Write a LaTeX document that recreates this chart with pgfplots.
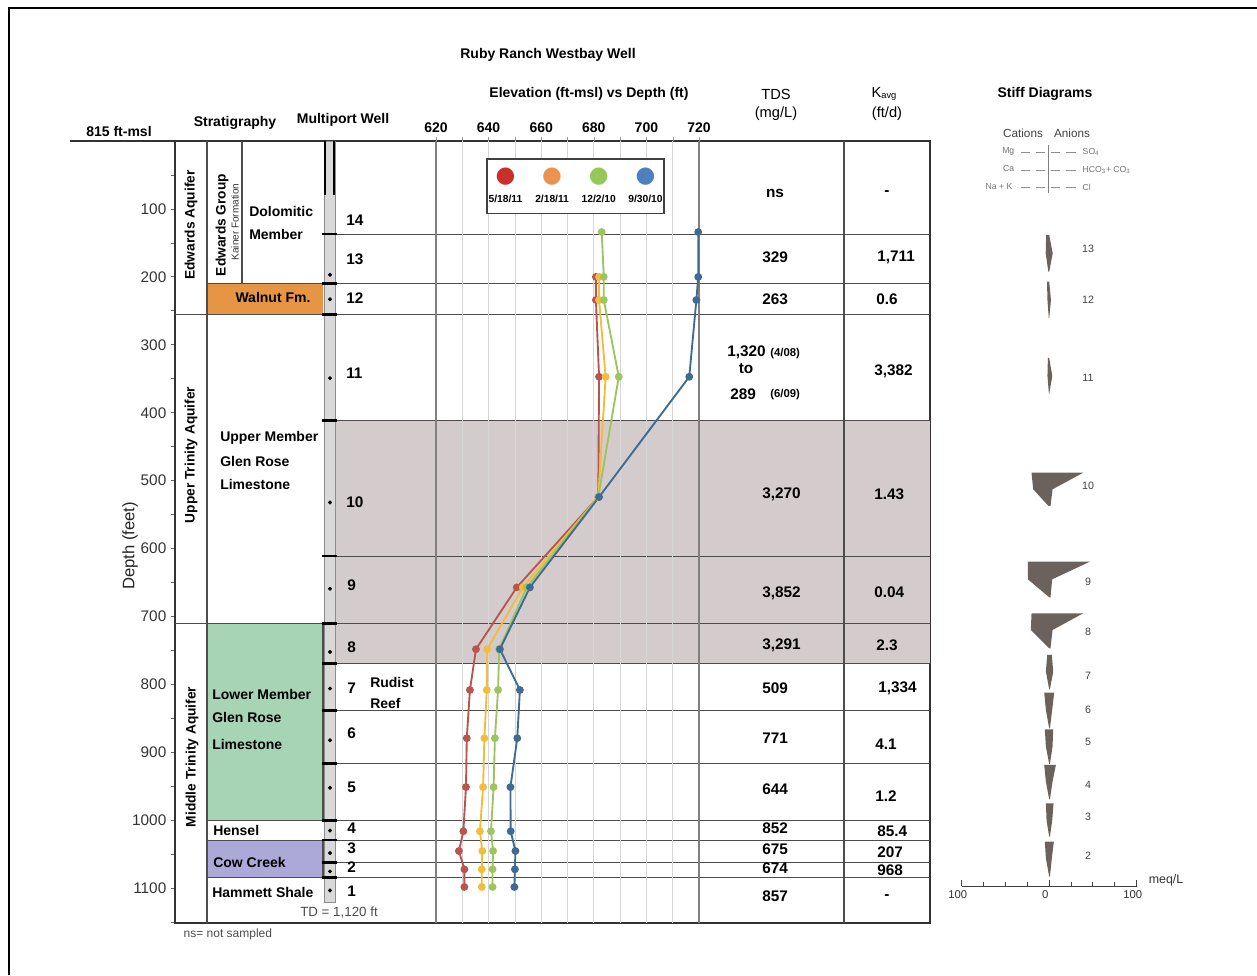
\documentclass[border=0pt]{standalone}
\usepackage{pgfplots}
\pgfplotsset{compat=1.18}
\usepackage{fontspec}
\setmainfont{Liberation Sans}
\newfontfamily\symf{DejaVu Sans}
\newcommand\fs[1]{\fontsize{#1}{#1}\selectfont}
\newcommand\lent[2]{\shortstack{\textcolor{#1}{\symf\fs{17}●}\\\rule{0pt}{10.5pt}#2}}
\definecolor{zshade}{HTML}{D4CCCC}
\definecolor{walnut}{HTML}{E69545}
\definecolor{lgreen}{HTML}{A6D4B4}
\definecolor{cow}{HTML}{ACA8D8}
\definecolor{stiff}{HTML}{6B625E}
\definecolor{cR}{HTML}{B6564E}
\definecolor{cO}{HTML}{F2BC3E}
\definecolor{cG}{HTML}{9DC45E}
\definecolor{cB}{HTML}{3F6B92}
\definecolor{lR}{HTML}{C9302C}
\definecolor{lO}{HTML}{EC924F}
\definecolor{lG}{HTML}{94C95A}
\definecolor{lB}{HTML}{4E7FBE}
\begin{document}
\begin{tikzpicture}[x=0.75pt,y=0.75pt,
  zl/.style={draw=black!70, line width=0.8pt},
  lab/.style={font=\bfseries\fs{10.5}, inner sep=0pt},
  val/.style={font=\bfseries\fs{11.5}, inner sep=0pt, anchor=west}]
\useasboundingbox (0,0) rectangle (1257,975);

% ---------- panel (strata, well, TDS, K) ----------
\begin{axis}[at={(131.25pt,625.5pt)}, anchor=north west, scale only axis,
  width=566.25pt, height=586.5pt,
  xmin=175, xmax=930, ymin=0, ymax=1151, y dir=reverse,
  xtick=\empty, ytick={100,200,...,1100}, minor ytick={50,150,...,1150},
  tick align=outside, ytick pos=left, major tick length=3pt, minor tick length=3pt,
  tick style={black!60, line width=0.6pt},
  yticklabel style={font=\fs{11.5}, text=black!80},
  /pgf/number format/assume math mode=true, /pgf/number format/1000 sep={},
  axis line style={draw=black!80, line width=0.8pt}, clip=false]
  \fill[zshade] (336,411) rectangle (930,769);
  \fill[walnut] (207,210) rectangle (323,255);
  \fill[lgreen] (207,710) rectangle (323,1000);
  \fill[cow] (207,1029) rectangle (323,1084);
  \draw[zl] (207,0) -- (207,1151);
  \draw[zl] (242,0) -- (242,210);
  \draw[zl] (844,0) -- (844,1151);
  \draw[zl] (207,710) rectangle (323,1000);
  \draw[zl] (207,1029) rectangle (323,1084);
  \pgfplotsinvokeforeach{137,411,611,769,838,916,1062}{\draw[zl] (336,#1) -- (930,#1);}
  \pgfplotsinvokeforeach{210,1000,1029,1084}{\draw[zl] (207,#1) -- (930,#1);}
  \pgfplotsinvokeforeach{255,710}{\draw[zl] (175,#1) -- (930,#1);}
  % well
  \filldraw[fill=black!15, draw=black!45, line width=0.5pt] (324,0) rectangle (335,1121);
  \draw[line width=2pt] (325,0) -- (325,80);
  \draw[line width=2pt] (334,0) -- (334,80);
  \pgfplotsinvokeforeach{137,210,255,411,611,710,769,838,916,1000,1029,1062,1084}{\draw[line width=2pt] (322,#1) -- (337,#1);}
  \addplot[only marks, mark=*, mark size=1.3pt, black] coordinates {
    (330,197) (330,233) (330,349) (330,532) (330,659) (330,752) (330,806)
    (330,882) (330,952) (330,1015) (330,1048) (330,1075) (330,1103)};
\end{axis}

% ---------- elevation chart ----------
\begin{axis}[at={(327pt,625.5pt)}, anchor=north west, scale only axis,
  width=197.25pt, height=586.5pt,
  xmin=620, xmax=720, ymin=0, ymax=1151, y dir=reverse,
  xtick={620,640,...,720}, minor xtick={630,650,...,710},
  xmajorgrids, xminorgrids,
  grid style={black!16, line width=0.6pt}, minor grid style={black!16, line width=0.6pt},
  xtick pos=right, xticklabel pos=right, ytick=\empty,
  tick align=outside, major tick length=3pt, minor tick length=3pt,
  tick style={black!40},
  xticklabel style={font=\bfseries\fs{10.5}},
  /pgf/number format/assume math mode=true,
  separate axis lines, x axis line style={draw=none},
  y axis line style={draw=black!50, line width=1pt}, clip=false,
  legend columns=4,
  legend style={at={(axis description cs:0.19,0.978)}, anchor=north west,
    draw=black!75, line width=1.2pt, fill=white, inner xsep=0.5pt, inner ysep=6pt,
    /tikz/every even column/.append style={column sep=8pt},
    nodes={font=\bfseries\fs{7.7}, text width=26pt, align=center, inner sep=0.5pt}}]
  \addplot[cR, line width=1.4pt, mark=*, mark size=2.2pt, legend image code/.code={}] coordinates {
    (680.8,200) (680.8,234) (682.0,347) (681.7,524) (650.7,657) (635.2,748) (632.9,808)
    (631.7,879) (631.4,951) (630.4,1016) (628.7,1045) (630.8,1072) (630.8,1098)};
  \addlegendentry{\lent{lR}{5/18/11}}
  \addplot[cO, line width=1.4pt, mark=*, mark size=2.2pt, legend image code/.code={}] coordinates {
    (682.0,200) (682.0,234) (684.5,347) (681.7,524) (653.0,657) (639.5,748) (639.3,808)
    (638.4,879) (637.9,951) (636.7,1016) (637.6,1045) (637.4,1072) (637.4,1098)};
  \addlegendentry{\lent{lO}{2/18/11}}
  \addplot[cG, line width=1.4pt, mark=*, mark size=2.2pt, legend image code/.code={}] coordinates {
    (683.0,134) (683.8,200) (683.8,234) (689.5,347) (681.7,524) (654.5,657) (644.0,748)
    (643.6,808) (642.4,879) (641.9,951) (640.9,1016) (641.7,1045) (641.5,1072) (641.5,1098)};
  \addlegendentry{\lent{lG}{12/2/10}}
  \addplot[cB, line width=1.4pt, mark=*, mark size=2.2pt, legend image code/.code={}] coordinates {
    (719.7,134) (719.7,200) (719.0,234) (716.3,347) (682.0,524) (655.7,657) (644.3,748)
    (651.9,808) (650.9,879) (648.3,951) (648.4,1016) (650.2,1045) (650.0,1072) (649.8,1098)};
  \addlegendentry{\lent{lB}{9/30/10}}
\end{axis}

% ---------- Stiff diagrams ----------
\begin{axis}[at={(721.275pt,66.75pt)}, anchor=south west, scale only axis,
  width=131.25pt, height=558.75pt,
  xmin=-100, xmax=100, ymin=0, ymax=745,
  axis x line=bottom, axis y line=none,
  axis line style={-, draw=black!75, line width=0.7pt},
  xtick={-100,0,100}, xticklabels={100,0,100}, minor xtick={-75,-50,-25,25,50,75},
  tick align=inside, major tick length=4.5pt, minor tick length=3pt,
  tick style={black!75, line width=0.7pt},
  xticklabel style={font=\fs{8.5}, text=black!80, xshift=-3pt},
  /pgf/number format/assume math mode=true, clip=false]
  % vertices: (-Mg,top) (SO4,top) (HCO3,mid) (Cl,bot) (-NaK,bot) (-Ca,mid)
  \addplot[fill=stiff, draw=none] coordinates {(-3.5,651) (0,651) (4,632.7) (0,614.3) (-1,614.3) (-4,632.7)} -- cycle;
  \addplot[fill=stiff, draw=none] coordinates {(-2.5,604.3) (0,604.3) (2,586) (0,567.7) (-0.5,567.7) (-2,586)} -- cycle;
  \addplot[fill=stiff, draw=none] coordinates {(-1.5,528) (0,528) (3.5,510) (0,492) (-0.3,492) (-2,510)} -- cycle;
  \addplot[fill=stiff, draw=none] coordinates {(-20.2,413.3) (38.9,413.3) (3.8,396.7) (1.5,380) (-0.8,380) (-18.3,396.7)} -- cycle;
  \addplot[fill=stiff, draw=none] coordinates {(-24.4,324.3) (46.5,324.3) (3.4,306.7) (1.5,288.7) (0,288.7) (-24.4,306.7)} -- cycle;
  \addplot[fill=stiff, draw=none] coordinates {(-20.2,272.7) (38.9,272.7) (3.8,256) (1.5,237.7) (0,237.7) (-21,256)} -- cycle;
  \addplot[fill=stiff, draw=none] coordinates {(-2.3,231) (3,231) (4.6,214.3) (0.8,196.7) (0,196.7) (-3.8,214.3)} -- cycle;
  \addplot[fill=stiff, draw=none] coordinates {(-5.7,193.3) (5.7,193.3) (3.4,176) (0.8,157.7) (0,157.7) (-3.8,176)} -- cycle;
  \addplot[fill=stiff, draw=none] coordinates {(-5,156.7) (4.6,156.7) (3.8,139.3) (0.8,122) (0,122) (-3.8,139.3)} -- cycle;
  \addplot[fill=stiff, draw=none] coordinates {(-5.7,121) (7.6,121) (3.8,104.3) (0.8,86.7) (0,86.7) (-3.8,104.3)} -- cycle;
  \addplot[fill=stiff, draw=none] coordinates {(-3.8,82.7) (5,82.7) (3.4,65.3) (0.8,49.3) (0,49.3) (-3,65.3)} -- cycle;
  \addplot[fill=stiff, draw=none] coordinates {(-5,44.3) (5.3,44.3) (3,27.7) (0.8,9.3) (0,9.3) (-3.8,27.7)} -- cycle;
\end{axis}

\begin{scope}[yshift=731.25pt, y=-0.75pt]
% ---------- frame and headers ----------
\draw[line width=1.5pt] (8.5,975) -- (8.5,8.5) -- (1257,8.5);
\draw[black!80, line width=0.8pt] (70,141) -- (175,141);
\node[lab] at (548,55) {Ruby Ranch Westbay Well};
\node[lab] at (589,94) {Elevation (ft-msl) vs Depth (ft)};
\node[lab] at (119,132) {815 ft-msl};
\node[lab] at (235,123) {Stratigraphy};
\node[lab] at (343,120) {Multiport Well};
\node[font=\fs{11}] at (776,94) {TDS};
\node[font=\fs{11}] at (776,114) {(mg/L)};
\node[font=\fs{11}] at (884,94) {K\raisebox{-1pt}{\fs{7}avg}};
\node[font=\fs{11}] at (887,114) {(ft/d)};
\node[lab] at (1045,94) {Stiff Diagrams};
\node[rotate=90, font=\fs{12.5}, text=black!85] at (130,546) {Depth (feet)};

% ---------- stratigraphy labels ----------
\node[rotate=90, font=\bfseries\fs{10.3}] at (191,225) {Edwards Aquifer};
\node[rotate=90, font=\bfseries\fs{10.3}] at (191,455) {Upper Trinity Aquifer};
\node[rotate=90, font=\bfseries\fs{10.3}] at (192,757) {Middle Trinity Aquifer};
\node[rotate=90, font=\bfseries\fs{10.3}] at (222,225) {Edwards Group};
\node[rotate=90, font=\fs{7.5}, text=black!80] at (235,222) {Kainer Formation};
\node[lab, anchor=west] at (249,212) {Dolomitic};
\node[lab, anchor=west] at (249,235) {Member};
\node[lab] at (273,298) {Walnut Fm.};
\node[lab, anchor=west] at (220,438) {Upper Member};
\node[lab, anchor=west] at (220,462) {Glen Rose};
\node[lab, anchor=west] at (220,485) {Limestone};
\node[lab, anchor=west] at (212,694) {Lower Member};
\node[lab, anchor=west] at (212,717) {Glen Rose};
\node[lab, anchor=west] at (212,744) {Limestone};
\node[lab, anchor=west] at (213,830) {Hensel};
\node[lab, anchor=west] at (213,862) {Cow Creek};
\node[lab, anchor=west] at (212,892) {Hammett Shale};
\node[font=\fs{10}, text=black!70] at (339,913) {TD = 1,120 ft};
\node[font=\fs{9}, text=black!70, anchor=west] at (179,934) {ns= not sampled};

% ---------- port numbers ----------
\node[val] at (346,220) {14};
\node[val] at (346,259) {13};
\node[val] at (346,298) {12};
\node[val] at (346,373) {11};
\node[val] at (346,502) {10};
\node[val] at (347,585) {9};
\node[val] at (347,647) {8};
\node[val] at (347,688) {7};
\node[val] at (347,733) {6};
\node[val] at (347,787) {5};
\node[val] at (347,828) {4};
\node[val] at (347,848) {3};
\node[val] at (347,867) {2};
\node[val] at (347,891) {1};
\node[lab, anchor=west] at (370,682) {Rudist};
\node[lab, anchor=west] at (370,703) {Reef};

% ---------- TDS ----------
\node[val, anchor=center] at (775,193) {ns};
\node[val] at (762,257) {329};
\node[val] at (762,299) {263};
\node[val] at (727,352) {1,320};
\node[font=\bfseries\fs{8.5}, anchor=west, inner sep=0pt] at (770,354) {(4/08)};
\node[val, anchor=center] at (746,369) {to};
\node[val] at (730,394) {289};
\node[font=\bfseries\fs{8.5}, anchor=west, inner sep=0pt] at (770,395) {(6/09)};
\node[val] at (762,494) {3,270};
\node[val] at (762,593) {3,852};
\node[val] at (762,645) {3,291};
\node[val] at (762,688) {509};
\node[val] at (762,738) {771};
\node[val] at (762,789) {644};
\node[val] at (762,828) {852};
\node[val] at (762,849) {675};
\node[val] at (762,868) {674};
\node[val] at (762,896) {857};

% ---------- K avg ----------
\node[val, anchor=center] at (887,193) {-};
\node[val] at (877,257) {1,711};
\node[val] at (876,299) {0.6};
\node[val] at (874,371) {3,382};
\node[val] at (874,494) {1.43};
\node[val] at (874,592) {0.04};
\node[val] at (876,645) {2.3};
\node[val] at (878,688) {1,334};
\node[val] at (875,744) {4.1};
\node[val] at (875,796) {1.2};
\node[val] at (877,831) {85.4};
\node[val] at (877,852) {207};
\node[val] at (877,870) {968};
\node[val, anchor=center] at (887,897) {-};

% ---------- Stiff legend and labels ----------
\node[font=\fs{8.8}, text=black!75] at (1023,133) {Cations};
\node[font=\fs{8.8}, text=black!75] at (1072,133) {Anions};
\draw[black!50, line width=0.5pt] (1048,145) -- (1048,193);
\foreach \yy in {152,170,187}{
  \draw[black!45, line width=0.5pt] (1021,\yy) -- (1030,\yy) (1036,\yy) -- (1045,\yy)
     (1051,\yy) -- (1060,\yy) (1066,\yy) -- (1076,\yy);}
\node[font=\fs{6.5}, text=black!55, anchor=east] at (1019,151) {Mg};
\node[font=\fs{6.5}, text=black!55, anchor=east] at (1019,169) {Ca};
\node[font=\fs{6.5}, text=black!55, anchor=east] at (1017,187) {Na + K};
\node[font=\fs{6.5}, text=black!55, anchor=west] at (1078,152) {SO\textsubscript{4}};
\node[font=\fs{6.5}, text=black!55, anchor=west] at (1078,170) {HCO\textsubscript{3}+ CO\textsubscript{3}};
\node[font=\fs{6.5}, text=black!55, anchor=west] at (1078,187) {Cl};
\foreach \n/\yy in {13/249,12/300,11/378,10/486,9/582,8/632,7/676,6/710,5/742,4/785,3/817,2/856}{
  \node[font=\fs{8}, text=black!75] at (1088,\yy) {\n};}
\node[font=\fs{9.3}, text=black!80] at (1166,880) {meq/L};
\end{scope}
\end{tikzpicture}
\end{document}
